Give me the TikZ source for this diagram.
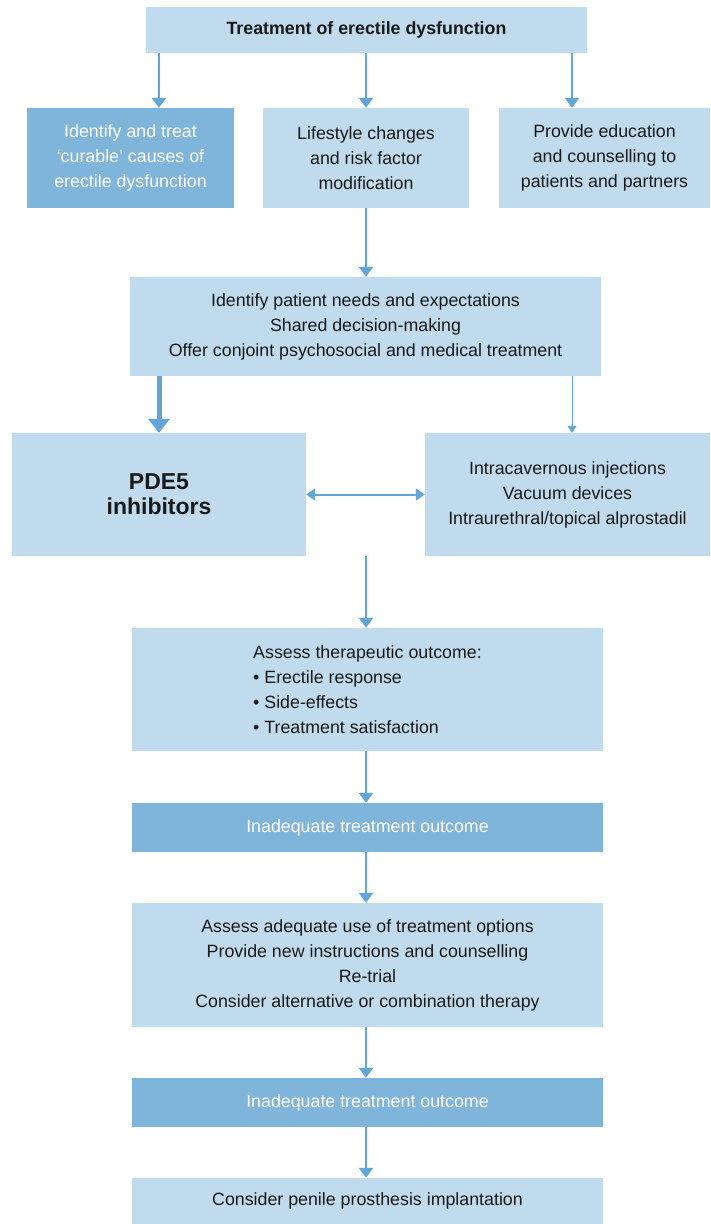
\documentclass[tikz,border=0pt]{standalone}
\usepackage{fontspec}
\setmainfont{Liberation Sans}
\usetikzlibrary{positioning,arrows.meta}
\definecolor{boxlight}{HTML}{C0DBEE}
\definecolor{boxdark}{HTML}{80B5DB}
\definecolor{arrowblue}{HTML}{62A6D8}
\newcommand{\flowfont}{\fontsize{17.8}{25}\selectfont}

\begin{document}
\begin{tikzpicture}[x=1pt,y=-1pt,font=\flowfont,
  box/.style={fill=boxlight,text=black!90,inner sep=0pt,align=center},
  darkbox/.style={fill=boxdark,text=white,inner sep=0pt,align=center},
  arr/.style={arrowblue,line width=2.5pt,-{Triangle[width=14pt,length=10pt]}},
  thickarr/.style={arrowblue,line width=5pt,-{Triangle[width=21pt,length=14pt]}},
  thinarr/.style={arrowblue,line width=1pt,-{Triangle[width=9pt,length=7pt]}},
  dblarr/.style={arrowblue,line width=2pt,{Triangle[width=12pt,length=9pt]}-{Triangle[width=12pt,length=9pt]}}]
\useasboundingbox (0,0) rectangle (711,1224);
\coordinate (rcol) at (572,0);
% top
\node[box,minimum width=441pt,minimum height=46pt,font=\flowfont\bfseries] (top) at (366.5,30) {Treatment of erectile dysfunction};
% first row
\node[darkbox,minimum width=207pt,minimum height=100pt] (curable) at (130.5,158) {Identify and treat\\‘curable’ causes of\\erectile dysfunction};
\node[box,minimum width=206pt,minimum height=100pt] (life) at (366,158) {Lifestyle changes\\and risk factor\\modification};
\node[box,minimum width=211pt,minimum height=100pt] (edu) at (604.5,158) {Provide education\\and counselling to\\patients and partners};
% needs
\node[box,minimum width=471pt,minimum height=99pt] (needs) at (365.5,326.5) {Identify patient needs and expectations\\Shared decision-making\\Offer conjoint psychosocial and medical treatment};
% treatments
\node[box,minimum width=294pt,minimum height=123pt,font=\fontsize{23}{25}\selectfont\bfseries] (pde) at (159,494.5) {PDE5\\inhibitors};
\node[box,minimum width=285pt,minimum height=123pt] (alt) at (567.5,494.5) {Intracavernous injections\\Vacuum devices\\Intraurethral/topical alprostadil};
% outcome loop
\node[box,minimum width=471pt,minimum height=123pt,align=left] (assess) at (367.5,689.5) {Assess therapeutic outcome:\\• Erectile response\\• Side-effects\\• Treatment satisfaction};
\node[darkbox,minimum width=471pt,minimum height=49pt] (inad1) at (367.5,827.5) {Inadequate treatment outcome};
\node[box,minimum width=471pt,minimum height=124pt] (use) at (367.5,965) {Assess adequate use of treatment options\\Provide new instructions and counselling\\Re-trial\\Consider alternative or combination therapy};
\node[darkbox,minimum width=471pt,minimum height=49pt] (inad2) at (367.5,1102.5) {Inadequate treatment outcome};
\node[box,minimum width=471pt,minimum height=46pt] (final) at (367.5,1201) {Consider penile prosthesis implantation};
% connectors
\draw[arr] (top.south -| pde) -- (curable.north -| pde);
\draw[arr] (top.south -| life) -- (life.north);
\draw[arr] (top.south -| rcol) -- (edu.north -| rcol);
\draw[arr] (life.south) -- (needs.north -| life);
\draw[thickarr] (needs.south -| pde) -- (pde.north);
\draw[thinarr] (needs.south -| rcol) -- (alt.north -| rcol);
\draw[dblarr] (pde.east) -- (alt.west);
\draw[arr] (pde.south -| life) -- (assess.north -| life);
\draw[arr] (assess.south -| life) -- (inad1.north -| life);
\draw[arr] (inad1.south -| life) -- (use.north -| life);
\draw[arr] (use.south -| life) -- (inad2.north -| life);
\draw[arr] (inad2.south -| life) -- (final.north -| life);
\end{tikzpicture}
\end{document}
